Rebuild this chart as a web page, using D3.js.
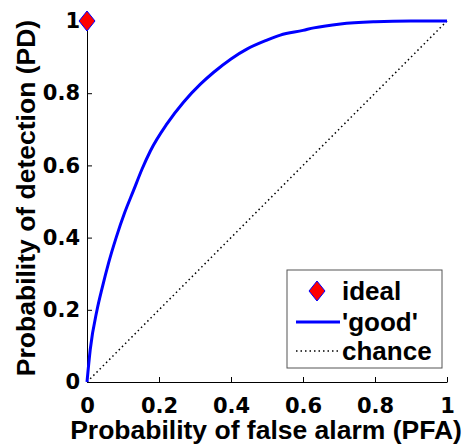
<!DOCTYPE html>
<html>
<head>
<meta charset="utf-8">
<script src="https://cdn.jsdelivr.net/npm/d3@7"></script>
<style>
  body { margin: 0; background: #fff; }
  svg { display: block; }
</style>
</head>
<body>
<div id="chart"></div>
<script>
// ROC curve values
var pfa = [0, 0.009, 0.028, 0.042, 0.06, 0.081, 0.105, 0.129, 0.153, 0.176, 0.222, 0.268, 0.315, 0.352, 0.4, 0.444, 0.5, 0.537, 0.6, 0.63, 0.704, 0.8, 0.9, 1];
var pd  = [0, 0.09, 0.2, 0.26, 0.33, 0.4, 0.47, 0.53, 0.59, 0.64, 0.715, 0.775, 0.825, 0.858, 0.895, 0.922, 0.947, 0.961, 0.974, 0.981, 0.992, 0.998, 1, 1];
var chanceX = [0, 1];
var chanceY = [0, 1];
var idealX = [0];
var idealY = [1];
var tickValues = [0, 0.2, 0.4, 0.6, 0.8, 1];
var tickLabels = ["0", "0.2", "0.4", "0.6", "0.8", "1"];
var legendLabels = ["ideal", "'good'", "chance"];

var width = 465, height = 446;
var margin = {left: 87, top: 21, right: 18, bottom: 64};

var svg = d3.select("#chart").append("svg")
    .attr("width", width)
    .attr("height", height);

var x = d3.scaleLinear().domain([0, 1]).range([margin.left, width - margin.right]);
var y = d3.scaleLinear().domain([0, 1]).range([height - margin.bottom, margin.top]);

var xAxis = d3.axisBottom(x)
    .tickValues(tickValues)
    .tickFormat(function(d, i) { return tickLabels[i]; })
    .tickSizeInner(-5)
    .tickSizeOuter(0)
    .tickPadding(16);

var yAxis = d3.axisLeft(y)
    .tickValues(tickValues)
    .tickFormat(function(d, i) { return tickLabels[i]; })
    .tickSizeInner(-5)
    .tickSizeOuter(0)
    .tickPadding(7);

function styleAxis(g) {
    g.select(".domain").attr("stroke", "#000").attr("stroke-width", 1);
    g.selectAll(".tick line").attr("stroke", "#000");
    g.selectAll(".tick text")
        .attr("fill", "#000")
        .style("font-family", "'DejaVu Sans', sans-serif")
        .style("font-weight", "bold")
        .style("font-size", "21px");
}

svg.append("g")
    .attr("transform", "translate(0," + y(0) + ")")
    .call(xAxis)
    .call(styleAxis);

svg.append("g")
    .attr("transform", "translate(" + x(0) + ",0)")
    .call(yAxis)
    .call(styleAxis);

// chance line
var chanceData = chanceX.map(function(d, i) { return [d, chanceY[i]]; });
svg.append("path")
    .datum(chanceData)
    .attr("fill", "none")
    .attr("stroke", "#000")
    .attr("stroke-width", 1.5)
    .attr("stroke-dasharray", "1.5,3")
    .attr("d", d3.line().x(function(d) { return x(d[0]); }).y(function(d) { return y(d[1]); }));

// 'good' curve
var rocData = pfa.map(function(d, i) { return [d, pd[i]]; });
svg.append("path")
    .datum(rocData)
    .attr("fill", "none")
    .attr("stroke", "#0000ff")
    .attr("stroke-width", 3)
    .attr("d", d3.line()
        .curve(d3.curveMonotoneX)
        .x(function(d) { return x(d[0]); })
        .y(function(d) { return y(d[1]); }));

function diamond(cx, cy) {
    return "M" + cx + "," + (cy - 10) + "L" + (cx + 8) + "," + cy +
           "L" + cx + "," + (cy + 10) + "L" + (cx - 8) + "," + cy + "Z";
}

svg.selectAll(".ideal")
    .data(idealX)
    .enter().append("path")
    .attr("class", "ideal")
    .attr("fill", "#ff0000")
    .attr("stroke", "#0000ff")
    .attr("stroke-width", 1)
    .attr("d", function(d, i) { return diamond(x(d), y(idealY[i])); });

// axis titles
svg.append("text")
    .attr("x", 266)
    .attr("y", 439)
    .attr("text-anchor", "middle")
    .style("font-family", "'Liberation Sans', Arial, sans-serif")
    .style("font-weight", "bold")
    .style("font-size", "26.5px")
    .text("Probability of false alarm (PFA)");

svg.append("text")
    .attr("transform", "translate(35,198) rotate(-90)")
    .attr("text-anchor", "middle")
    .style("font-family", "'Liberation Sans', Arial, sans-serif")
    .style("font-weight", "bold")
    .style("font-size", "26.5px")
    .text("Probability of detection (PD)");

// legend
var legend = svg.append("g").attr("transform", "translate(287,270)");
legend.append("rect")
    .attr("width", 155)
    .attr("height", 98)
    .attr("fill", "#fff")
    .attr("stroke", "#555")
    .attr("stroke-width", 1);

var rowY = [21, 52, 81];
legend.append("path")
    .attr("fill", "#ff0000")
    .attr("stroke", "#0000ff")
    .attr("d", diamond(30, rowY[0]));
legend.append("line")
    .attr("x1", 9).attr("x2", 53)
    .attr("y1", rowY[1]).attr("y2", rowY[1])
    .attr("stroke", "#0000ff")
    .attr("stroke-width", 3);
legend.append("line")
    .attr("x1", 9).attr("x2", 51)
    .attr("y1", rowY[2]).attr("y2", rowY[2])
    .attr("stroke", "#000")
    .attr("stroke-width", 1.5)
    .attr("stroke-dasharray", "1.5,3");

legend.selectAll(".lab")
    .data(legendLabels)
    .enter().append("text")
    .attr("class", "lab")
    .attr("x", 55)
    .attr("y", function(d, i) { return rowY[i]; })
    .attr("dy", "0.35em")
    .style("font-family", "'Liberation Sans', Arial, sans-serif")
    .style("font-weight", "bold")
    .style("font-size", "26px")
    .text(function(d) { return d; });
</script>
</body>
</html>
